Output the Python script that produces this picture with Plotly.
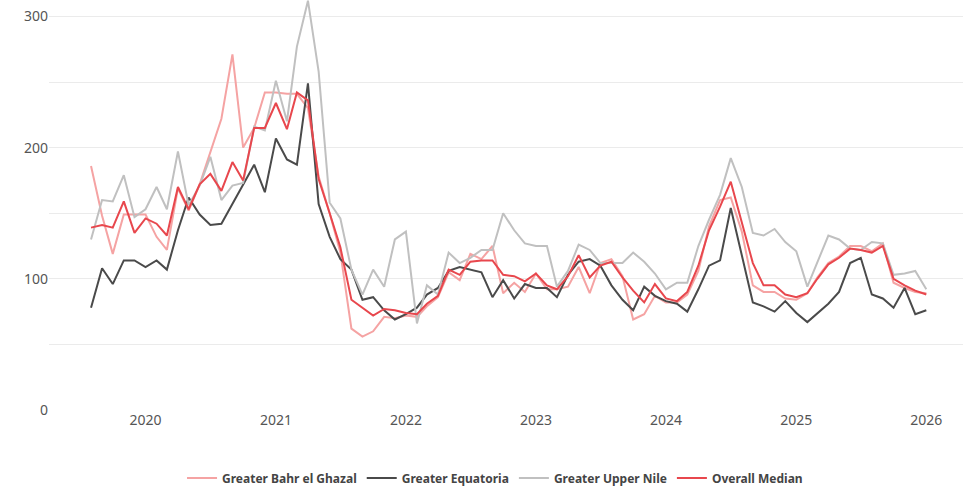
import pandas as pd
import plotly.graph_objects as go

months = pd.date_range("2019-08-01", "2026-01-01", freq="MS")

bahr_el_ghazal = [186, 148, 119, 149, 149, 149, 132, 122, 169, 152, 172, 196, 222, 271, 200, 215,
                  242, 242, 241, 241, 230, 178, 150, 120, 62, 56, 60, 71, 70, 72, 71, 79, 86, 105,
                  99, 119, 115, 125, 89, 97, 90, 104, 92, 92, 94, 109, 89, 112, 115, 102, 69, 73,
                  87, 82, 82, 88, 106, 140, 160, 162, 136, 95, 90, 90, 85, 84, 89, 101, 112, 117,
                  125, 125, 121, 127, 97, 93, 90, 89]
equatoria = [78, 108, 96, 114, 114, 109, 114, 107, 137, 162, 149, 141, 142, 157, 172, 187, 166, 207,
             191, 187, 249, 157, 132, 115, 107, 84, 86, 76, 69, 73, 78, 88, 93, 106, 109, 107, 105,
             86, 99, 85, 96, 93, 93, 86, 103, 113, 115, 110, 95, 84, 76, 94, 87, 83, 81, 75, 92, 110,
             114, 154, 118, 82, 79, 75, 83, 74, 67, 74, 81, 90, 112, 116, 88, 85, 78, 93, 73, 76]
upper_nile = [130, 160, 159, 179, 147, 153, 170, 153, 197, 156, 171, 193, 160, 171, 173, 216, 213,
              251, 220, 277, 312, 258, 158, 146, 107, 88, 107, 94, 130, 136, 66, 95, 88, 120, 112,
              116, 122, 122, 150, 137, 127, 125, 125, 94, 106, 126, 122, 112, 112, 112, 120, 113,
              104, 92, 97, 97, 125, 145, 164, 192, 170, 135, 133, 138, 128, 121, 94, 113, 133, 130,
              123, 122, 128, 127, 103, 104, 106, 92]
overall_median = [139, 141, 139, 159, 135, 146, 142, 133, 170, 153, 172, 180, 167, 189, 175, 215,
                  215, 234, 214, 242, 236, 176, 150, 124, 84, 78, 72, 77, 76, 74, 73, 81, 87, 107,
                  103, 113, 114, 114, 103, 102, 98, 104, 95, 92, 102, 118, 101, 110, 113, 101, 91,
                  82, 96, 85, 83, 90, 110, 137, 155, 174, 142, 112, 95, 95, 88, 86, 89, 100, 111,
                  116, 123, 122, 120, 125, 100, 95, 91, 88]

series = [
    ("Greater Bahr el Ghazal", bahr_el_ghazal, "#F5A3A3"),
    ("Greater Equatoria", equatoria, "#4A4A4A"),
    ("Greater Upper Nile", upper_nile, "#C0C0C0"),
    ("Overall Median", overall_median, "#E8474D"),
]

fig = go.Figure()
for name, vals, color in series:
    fig.add_trace(go.Scatter(x=months, y=vals, name=name, mode="lines",
                             line=dict(color=color, width=2)))

fig.update_layout(
    width=963, height=487,
    margin=dict(l=49, r=0, t=0, b=77, autoexpand=False),
    plot_bgcolor="white", paper_bgcolor="white",
    font=dict(family="Noto Sans, Open Sans, sans-serif", color="#555555"),
    showlegend=True,
    legend=dict(orientation="h", x=0.488, xanchor="center", y=-0.166, yanchor="middle",
                font=dict(size=12, color="#444444", weight="bold")),
)
fig.update_xaxes(
    type="date", range=["2019-04-05", "2026-04-14"],
    dtick="M12", tick0="2020-01-01", tickformat="%Y",
    showgrid=False, zeroline=False, showline=False, automargin=False,
    tickfont=dict(size=14, color="#555555"), ticks="",
)
fig.update_yaxes(
    range=[0, 312.5], dtick=100, tick0=0,
    showgrid=True, gridcolor="#EBEBEB", gridwidth=1,
    minor=dict(dtick=50, showgrid=True, gridcolor="#EBEBEB"),
    zeroline=False, showline=False, automargin=False,
    tickfont=dict(size=14, color="#555555"), ticks="",
)

# page body has a default 8px margin; drop it so the figure fills the window
fig.write_html("out.html", config={"displayModeBar": False},
               post_script="document.body.style.margin='0';")
